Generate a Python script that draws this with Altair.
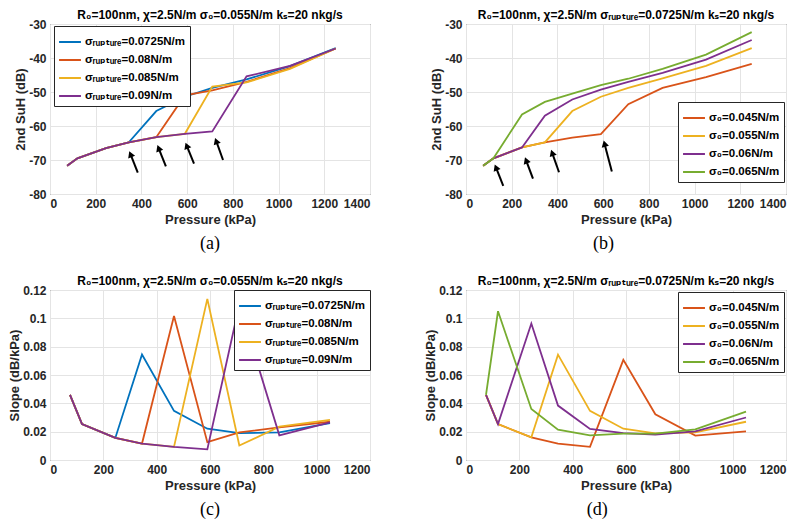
import math
import altair as alt
import pandas as pd

# ---------------- data ----------------
pressure_suh = [75, 120, 245, 345, 465, 590, 710, 860, 1050, 1250]
pressure_slope = [75, 120, 245, 345, 465, 590, 710, 860, 1050]

labels_rupture = ["σᵣᵤₚₜᵤᵣₑ=0.0725N/m", "σᵣᵤₚₜᵤᵣₑ=0.08N/m",
                  "σᵣᵤₚₜᵤᵣₑ=0.085N/m", "σᵣᵤₚₜᵤᵣₑ=0.09N/m"]
labels_sigma0 = ["σ₀=0.045N/m", "σ₀=0.055N/m", "σ₀=0.06N/m", "σ₀=0.065N/m"]

colors_a = ["#0072BD", "#D95319", "#EDB120", "#7E2F8E"]
colors_b = ["#D95319", "#EDB120", "#7E2F8E", "#77AC30"]

# (a) 2nd SuH vs pressure, varying sigma_rupture
suh_a_0725 = [-71.7, -69.5, -66.5, -64.8, -55.6, -51.4, -48.8, -46.3, -42.4, -37.1]
suh_a_080 = [-71.7, -69.5, -66.5, -64.8, -63.3, -51.0, -49.5, -47.0, -43.0, -37.2]
suh_a_085 = [-71.7, -69.5, -66.5, -64.8, -63.3, -62.3, -48.4, -47.2, -43.2, -37.2]
suh_a_090 = [-71.7, -69.5, -66.5, -64.8, -63.3, -62.3, -61.6, -45.4, -42.3, -37.2]

# (b) 2nd SuH vs pressure, varying sigma_0
suh_b_045 = [-71.7, -69.5, -66.3, -64.8, -63.4, -62.4, -53.6, -48.8, -45.6, -41.7]
suh_b_055 = [-71.7, -69.5, -66.3, -64.8, -55.6, -51.4, -48.8, -46.0, -42.3, -37.1]
suh_b_060 = [-71.7, -69.5, -66.3, -57.0, -52.2, -49.3, -47.0, -44.4, -40.5, -34.7]
suh_b_065 = [-71.7, -69.5, -56.6, -52.9, -50.5, -48.0, -46.1, -43.2, -39.0, -32.4]

# (c) slope vs pressure, varying sigma_rupture
slope_c_0725 = [0.046, 0.0253, 0.0156, 0.0744, 0.0347, 0.0221, 0.0190, 0.0195, 0.0260]
slope_c_080 = [0.046, 0.0253, 0.0156, 0.0116, 0.1017, 0.0126, 0.0195, 0.0230, 0.0270]
slope_c_085 = [0.046, 0.0253, 0.0156, 0.0116, 0.0093, 0.1137, 0.0102, 0.0235, 0.0284]
slope_c_090 = [0.046, 0.0253, 0.0156, 0.0116, 0.0093, 0.0075, 0.1098, 0.0174, 0.0265]

# (d) slope vs pressure, varying sigma_0
slope_d_045 = [0.046, 0.0253, 0.0160, 0.0116, 0.0093, 0.0707, 0.0323, 0.0172, 0.0202]
slope_d_055 = [0.046, 0.0253, 0.0160, 0.0744, 0.0347, 0.0221, 0.0188, 0.0195, 0.0270]
slope_d_060 = [0.046, 0.0253, 0.0963, 0.0384, 0.0219, 0.0190, 0.0179, 0.0202, 0.0300]
slope_d_065 = [0.046, 0.1050, 0.0360, 0.0214, 0.0174, 0.0186, 0.0186, 0.0216, 0.0342]

# arrows (tail pressure, tail dB, head pressure, head dB)
arrows_a_tail_p = [384, 507, 630, 757]
arrows_a_tail_v = [-73.7, -71.9, -71.1, -70.0]
arrows_a_head_p = [352, 475, 598, 727]
arrows_a_head_v = [-68.3, -66.5, -65.8, -64.4]

arrows_b_tail_p = [163, 293, 407, 638]
arrows_b_tail_v = [-77.6, -75.5, -73.6, -73.4]
arrows_b_head_p = [131, 263, 377, 606]
arrows_b_head_v = [-72.2, -70.1, -67.9, -65.2]

title_a = "R₀=100nm, χ=2.5N/m σ₀=0.055N/m kₛ=20 nkg/s"
title_b = "R₀=100nm, χ=2.5N/m σᵣᵤₚₜᵤᵣₑ=0.0725N/m kₛ=20 nkg/s"

# ---------------- layout ----------------
W = 320
H = 170
FONT = "Liberation Sans, DejaVu Sans, sans-serif"


def panel(pressure, labels, values, colors, ydom, yticks, xdom, xticks,
          ytitle, title, legend, arrows, tag, tag_frac):
    xs = alt.Scale(domain=xdom, nice=False, zero=False)
    ys = alt.Scale(domain=ydom, nice=False, zero=False)
    xa = alt.Axis(title="Pressure (kPa)", values=xticks, labelExpr="datum.value")
    ya = alt.Axis(title=ytitle, values=yticks, labelExpr="datum.value")
    color = alt.Color("s:N", scale=alt.Scale(domain=labels, range=colors), legend=legend)
    layers = []
    for lab, vals in zip(labels, values):
        df = pd.DataFrame({"p": pressure, "v": vals, "s": lab})
        layers.append(
            alt.Chart(df).mark_line(strokeWidth=1.8, clip=True).encode(
                x=alt.X("p:Q", scale=xs, axis=xa),
                y=alt.Y("v:Q", scale=ys, axis=ya),
                color=color,
            )
        )
    if arrows is not None:
        tp, tv, hp, hv = arrows
        ang = []
        for a, b, c, d in zip(tp, tv, hp, hv):
            dx = (c - a) * W / (xdom[1] - xdom[0])
            dy = -(d - b) * H / (ydom[1] - ydom[0])
            ang.append(math.degrees(math.atan2(dx, -dy)) % 360)
        adf = pd.DataFrame({"p": tp, "v": tv, "p2": hp, "v2": hv, "ang": ang})
        layers.append(
            alt.Chart(adf).mark_rule(color="black", strokeWidth=2).encode(
                x=alt.X("p:Q", scale=xs, axis=xa),
                y=alt.Y("v:Q", scale=ys, axis=ya),
                x2="p2:Q", y2="v2:Q",
            )
        )
        layers.append(
            alt.Chart(adf).mark_point(shape="triangle-up", filled=True, color="black",
                                      size=55, opacity=1).encode(
                x=alt.X("p2:Q", scale=xs, axis=xa),
                y=alt.Y("v2:Q", scale=ys, axis=ya),
                angle=alt.Angle("ang:Q", scale=None),
            )
        )
    tdf = pd.DataFrame({"t": [tag]})
    layers.append(
        alt.Chart(tdf).mark_text(font="Liberation Serif", fontSize=18,
                                 baseline="middle", align="center", color="black").encode(
            text="t:N", x=alt.value(W * tag_frac), y=alt.value(H + 50)
        )
    )
    return alt.layer(*layers).properties(
        width=W, height=H,
        title=alt.TitleParams(title, font=FONT, fontSize=12, fontWeight="bold",
                              color="black", offset=-4, anchor="middle"),
    )


leg_a = alt.Legend(title=None, orient="none", legendX=4, legendY=2)
leg_b = alt.Legend(title=None, orient="none", legendX=212, legendY=78)
leg_c = alt.Legend(title=None, orient="top-right", offset=0)
leg_d = alt.Legend(title=None, orient="top-right", offset=2)

pa = panel(pressure_suh, labels_rupture, [suh_a_0725, suh_a_080, suh_a_085, suh_a_090],
           colors_a, [-80, -30], [-80, -70, -60, -50, -40, -30], [0, 1400],
           list(range(0, 1401, 200)), "2nd SuH (dB)", title_a, leg_a,
           (arrows_a_tail_p, arrows_a_tail_v, arrows_a_head_p, arrows_a_head_v), "(a)", 0.5)
pb = panel(pressure_suh, labels_sigma0, [suh_b_045, suh_b_055, suh_b_060, suh_b_065],
           colors_b, [-80, -30], [-80, -70, -60, -50, -40, -30], [0, 1400],
           list(range(0, 1401, 200)), "2nd SuH (dB)", title_b, leg_b,
           (arrows_b_tail_p, arrows_b_tail_v, arrows_b_head_p, arrows_b_head_v), "(b)", 0.43)
pc = panel(pressure_slope, labels_rupture, [slope_c_0725, slope_c_080, slope_c_085, slope_c_090],
           colors_a, [0, 0.12], [0, 0.02, 0.04, 0.06, 0.08, 0.1, 0.12], [0, 1200],
           list(range(0, 1201, 200)), "Slope (dB/kPa)", title_a, leg_c,
           None, "(c)", 0.5)
pd_ = panel(pressure_slope, labels_sigma0, [slope_d_045, slope_d_055, slope_d_060, slope_d_065],
            colors_b, [0, 0.12], [0, 0.02, 0.04, 0.06, 0.08, 0.1, 0.12], [0, 1200],
            list(range(0, 1201, 200)), "Slope (dB/kPa)", title_b, leg_d,
            None, "(d)", 0.41)

chart = alt.concat(pa, pb, pc, pd_, columns=2, spacing=96, bounds="flush").resolve_scale(
    color="independent", x="independent", y="independent"
).properties(
    padding=0, background="white"
).configure_view(
    stroke="#262626", strokeWidth=1
).configure_axis(
    grid=True, gridColor="#e4e4e4", gridWidth=1, domain=False, ticks=False,
    labelFont=FONT, labelFontSize=12, labelFontWeight="bold", labelColor="#262626",
    titleFont=FONT, titleFontSize=13, titleFontWeight="bold", titleColor="#262626",
    labelPadding=4,
).configure_axisX(
    titlePadding=4,
).configure_axisY(
    titlePadding=1,
).configure_legend(
    labelFont=FONT, labelFontSize=11.5, labelFontWeight="bold", labelColor="black",
    fillColor="white", strokeColor="#262626", padding=4, rowPadding=-5,
    symbolType="stroke", symbolSize=480, symbolStrokeWidth=2, labelOffset=3,
    labelLimit=300,
)

chart.save("out.html", embed_options={"renderer": "svg", "actions": False})
